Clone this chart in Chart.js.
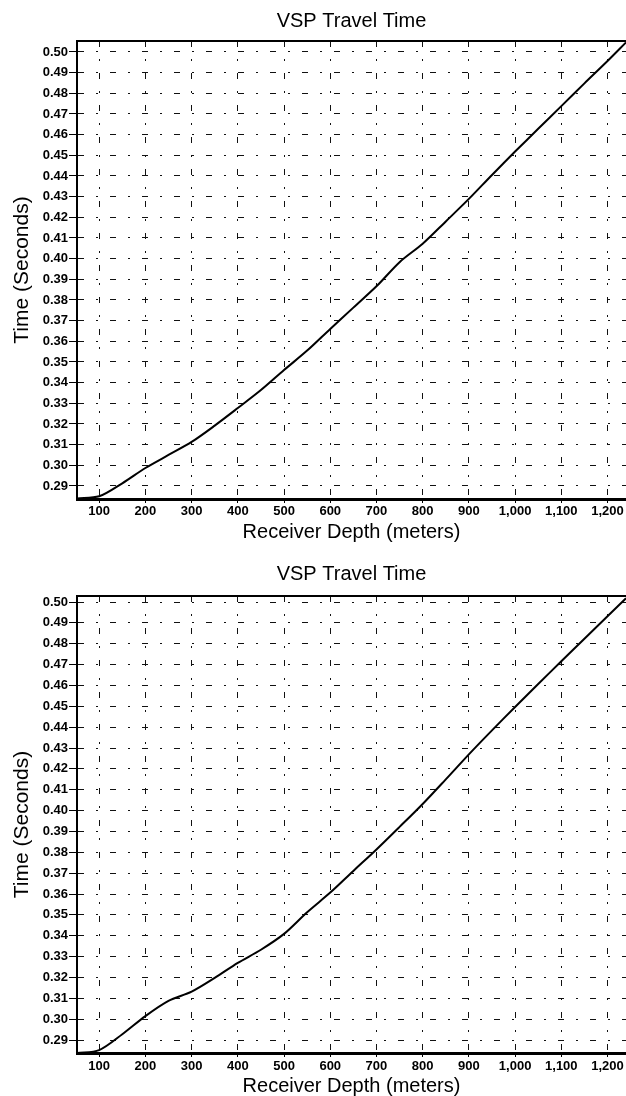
<!DOCTYPE html>
<html>
<head>
<meta charset="utf-8">
<title>VSP Travel Time</title>
<script src="https://cdn.jsdelivr.net/npm/chart.js@4.4.1/dist/chart.umd.min.js"></script>
<style>
  html, body { margin: 0; padding: 0; background: #fff; overflow: hidden; }
  canvas { display: block; }
</style>
</head>
<body>
<canvas id="chartTop" width="626" height="548"></canvas>
<canvas id="chartBottom" width="626" height="548"></canvas>
<script>
// --- DATA ---
const depths = [52, 100, 150, 200, 250, 300, 350, 400, 450, 500, 550, 600, 650,
                700, 750, 800, 850, 900, 950, 1000, 1050, 1100, 1150, 1200, 1240];
const timesTop = [0.2840, 0.2850, 0.2913, 0.2987, 0.3050, 0.3113, 0.3192, 0.3277, 0.3364,
                  0.3461, 0.3555, 0.3660, 0.3763, 0.3866, 0.3983, 0.4072, 0.4180, 0.4289,
                  0.4405, 0.4518, 0.4628, 0.4738, 0.4848, 0.4956, 0.5046];
const timesBottom = [0.2838, 0.2852, 0.2928, 0.3015, 0.3088, 0.3132, 0.3198, 0.3270, 0.3333,
                     0.3409, 0.3513, 0.3607, 0.3711, 0.3814, 0.3922, 0.4032, 0.4150, 0.4270,
                     0.4385, 0.4497, 0.4607, 0.4716, 0.4824, 0.4932, 0.5018];
const depthTicks = [100, 200, 300, 400, 500, 600, 700, 800, 900, 1000, 1100, 1200];
const timeTicks = [0.29, 0.30, 0.31, 0.32, 0.33, 0.34, 0.35, 0.36, 0.37, 0.38, 0.39,
                   0.40, 0.41, 0.42, 0.43, 0.44, 0.45, 0.46, 0.47, 0.48, 0.49, 0.50];

const titleText = 'VSP Travel Time';
const xTitle = 'Receiver Depth (meters)';
const yTitle = 'Time (Seconds)';

Chart.defaults.font.family = '"Liberation Sans", Arial, Helvetica, sans-serif';
Chart.defaults.color = '#000';

const X_MIN = 52, X_MAX = 1240;

function makeChart(id, times, yMin, yMax, lay) {
    const ctx = document.getElementById(id).getContext('2d');
    // broken, scanned-looking grid
    const gridDash = [6, 12, 2, 12];

    return new Chart(ctx, {
        type: 'line',
        data: {
            datasets: [{
                data: depths.map((d, i) => ({ x: d, y: times[i] })),
                borderColor: '#000',
                borderWidth: 2,
                pointRadius: 0,
                fill: false,
                tension: 0.3
            }]
        },
        options: {
            responsive: false,
            animation: false,
            devicePixelRatio: 1,
            layout: { padding: 0 },
            plugins: {
                legend: { display: false },
                tooltip: { enabled: false },
                title: {
                    display: true,
                    text: titleText,
                    fullSize: false,
                    color: '#000',
                    font: { size: 20, weight: 'normal', lineHeight: 1.2 },
                    padding: { top: lay.titleTop, bottom: lay.titleBottom }
                }
            },
            scales: {
                x: {
                    type: 'linear',
                    position: 'bottom',
                    min: X_MIN,
                    max: X_MAX,
                    afterBuildTicks: (scale) => { scale.ticks = depthTicks.map(v => ({ value: v })); },
                    afterFit: (scale) => { scale.height = lay.xHeight; },
                    ticks: {
                        autoSkip: false,
                        maxRotation: 0,
                        padding: lay.xTickPad,
                        font: { size: 13, weight: 'bold' },
                        callback: (v) => v.toLocaleString('en-US')
                    },
                    grid: {
                        color: '#111',
                        lineWidth: 1,
                        tickLength: 4,
                        tickColor: '#000'
                    },
                    border: { display: true, color: '#000', width: 3, dash: gridDash },
                    title: {
                        display: true,
                        text: xTitle,
                        font: { size: 20, weight: 'normal', lineHeight: 1 },
                        padding: { top: 0, bottom: lay.xTitleBottom }
                    }
                },
                xTop: {
                    type: 'linear',
                    position: 'top',
                    min: X_MIN,
                    max: X_MAX,
                    afterFit: (scale) => { scale.height = 0; },
                    ticks: { display: false },
                    grid: { display: false, drawTicks: false },
                    border: { display: true, color: '#000', width: 2 }
                },
                y: {
                    type: 'linear',
                    position: 'left',
                    min: yMin,
                    max: yMax,
                    afterBuildTicks: (scale) => { scale.ticks = timeTicks.map(v => ({ value: v })); },
                    afterFit: (scale) => { scale.width = 77; },
                    ticks: {
                        autoSkip: false,
                        padding: 1,
                        font: { size: 13, weight: 'bold' },
                        callback: (v) => v.toFixed(2)
                    },
                    grid: {
                        color: '#111',
                        lineWidth: 1,
                        tickLength: 8,
                        tickColor: '#000'
                    },
                    border: { display: true, color: '#000', width: 2, dash: gridDash },
                    title: {
                        display: true,
                        text: yTitle,
                        font: { size: 21, weight: 'normal', lineHeight: 1 },
                        padding: { top: 12, bottom: 0 }
                    }
                }
            }
        }
    });
}

makeChart('chartTop', timesTop, 0.2837, 0.5053,
    { titleTop: 9, titleBottom: 8, xHeight: 49, xTickPad: 1, xTitleBottom: 6 });
makeChart('chartBottom', timesBottom, 0.2838, 0.5029,
    { titleTop: 14, titleBottom: 10, xHeight: 43, xTickPad: 2, xTitleBottom: 0 });
</script>
</body>
</html>
